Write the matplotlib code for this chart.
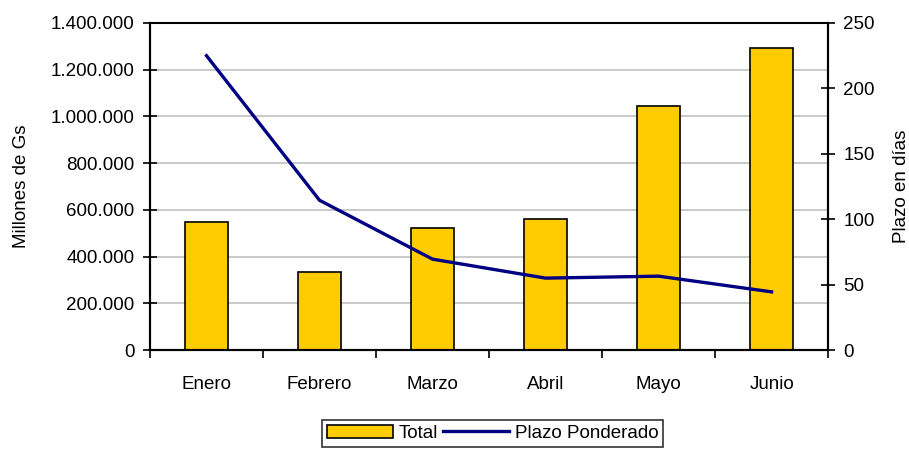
import matplotlib
matplotlib.use("Agg")
import matplotlib.pyplot as plt
from matplotlib.ticker import FuncFormatter
import numpy as np

# ---------- Data ----------
meses = ["Enero", "Febrero", "Marzo", "Abril", "Mayo", "Junio"]
total = [548000, 334000, 522000, 561000, 1045000, 1293000]
plazo = [225, 114.5, 69.5, 55, 56.5, 44.5]

plt.rcParams["font.family"] = ["Liberation Sans", "DejaVu Sans"]
plt.rcParams["font.size"] = 13.5

fig = plt.figure(figsize=(9.09, 4.5), dpi=100)
ax = fig.add_axes([0.165, 0.222, 0.746, 0.727])
x = np.arange(len(meses))

ax.set_axisbelow(True)
ax.bar(x, total, width=0.38, color="#FFCC00", edgecolor="black", linewidth=1.2, label="Total", zorder=2)
ax.set_xlim(-0.5, len(meses) - 0.5)
ax.set_ylim(0, 1400000)
ax.set_yticks(np.arange(0, 1400001, 200000))
ax.yaxis.set_major_formatter(FuncFormatter(lambda v, p: f"{int(v):,}".replace(",", ".")))
ax.grid(axis="y", color="#c0c0c0", linewidth=1.2)
ax.set_xticks(x)
ax.set_xticklabels(meses)
ax.set_xticks(np.arange(-0.5, len(meses), 1), minor=True)
ax.tick_params(axis="x", which="major", length=0, pad=19)
ax.tick_params(axis="x", which="minor", length=6, width=1.2, direction="out")
ax.tick_params(axis="y", length=10, width=1.2, direction="inout", pad=6)
ax.set_ylabel("Millones de Gs", labelpad=15)
for s in ax.spines.values():
    s.set_linewidth(1.5)
ax.spines["top"].set_color("#222222")
ax.spines["top"].set_linewidth(1.2)

ax2 = ax.twinx()
ax2.plot(x, plazo, color="#000080", linewidth=2.4, label="Plazo Ponderado", zorder=3)
ax2.set_ylim(0, 250)
ax2.set_yticks(np.arange(0, 251, 50))
ax2.tick_params(axis="y", length=10, width=1.2, direction="inout", pad=6)
ax2.set_ylabel("Plazo en días", labelpad=13)
for s in ax2.spines.values():
    s.set_linewidth(1.5)

h1, l1 = ax.get_legend_handles_labels()
h2, l2 = ax2.get_legend_handles_labels()
leg = fig.legend(h1 + h2, l1 + l2, loc="center", ncol=2,
                 frameon=True, fancybox=False, edgecolor="black", handlelength=3.5,
                 handletextpad=0.3, columnspacing=0.3, borderpad=0.25)
leg.set_bbox_to_anchor((0.542, 0.037), transform=fig.transFigure)
leg.get_frame().set_linewidth(1.2)

fig.savefig("out.png", dpi=100)
